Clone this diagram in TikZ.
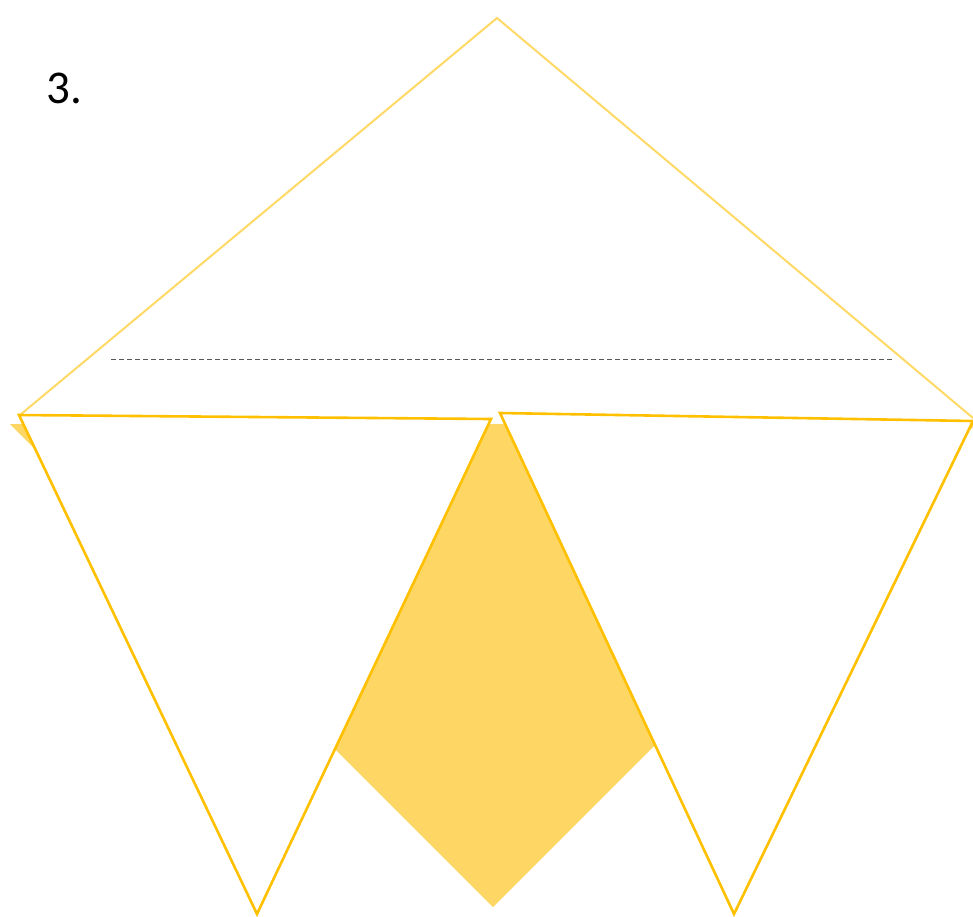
\documentclass[tikz,border=0pt]{standalone}
\usepackage{fontspec}
\setmainfont{Carlito}
\definecolor{goldfill}{HTML}{FDD663}
\definecolor{goldline}{HTML}{FFC000}
\definecolor{goldlight}{HTML}{FFD966}
\definecolor{dashgray}{HTML}{595959}
\tikzset{
  flag/.style={draw=goldline, line width=2.6pt, fill=white, line join=miter},
  toptri/.style={draw=goldlight, line width=2pt},
  fillshape/.style={fill=goldfill},
  foldline/.style={draw=dashgray, line width=0.8pt, dash pattern=on 5pt off 3pt}
}
\begin{document}
\begin{tikzpicture}[x=1pt,y=-1pt]
\useasboundingbox (0,0) rectangle (973,916);
% filled back triangle
\coordinate (fa) at (10,424);
\coordinate (fb) at (976,424);
\coordinate (fc) at (493,907);
\fill[fillshape] (fa) -- (fb) -- (fc) -- cycle;
% top triangle
\coordinate (ta) at (20,415);
\coordinate (tb) at (497,18);
\coordinate (tc) at (973,418);
\draw[toptri] (ta) -- (tb) -- (tc);
% fold line
\coordinate (d1) at (111,359);
\coordinate (d2) at (893,359);
\draw[foldline] (d1) -- (d2);
% white strip
\draw[white, line width=2pt] (490,423) -- (502,423);
% flags
\coordinate (l1) at (19,415);
\coordinate (l2) at (491,419);
\coordinate (l3) at (257,914);
\draw[flag] (l1) -- (l2) -- (l3) -- cycle;
\coordinate (r1) at (500,413);
\coordinate (r2) at (973,421);
\coordinate (r3) at (734,914);
\draw[flag] (r1) -- (r2) -- (r3) -- cycle;
% label
\node[anchor=base west, inner sep=0pt, font=\fontsize{47}{56}\selectfont] (lbl) at (46,103) {3.};
\end{tikzpicture}
\end{document}
